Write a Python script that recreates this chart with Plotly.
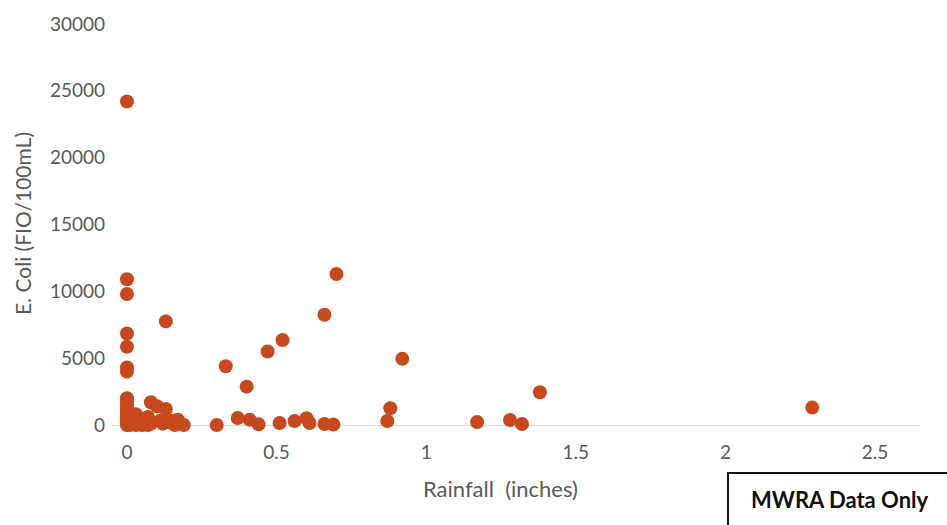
import plotly.graph_objects as go

# Rainfall (inches) and E. coli counts (FIO/100mL) per sample
rainfall = [
    0, 0, 0, 0, 0, 0, 0, 0, 0, 0, 0, 0, 0, 0, 0, 0, 0, 0,
    0.01, 0.01, 0.02, 0.02, 0.03, 0.03, 0.03, 0.04, 0.04, 0.05, 0.05, 0.06,
    0.07, 0.07, 0.08, 0.08, 0.10, 0.11, 0.12, 0.13, 0.13, 0.14, 0.15, 0.16,
    0.17, 0.18, 0.19, 0.13,
    0.30, 0.33, 0.37, 0.40, 0.41, 0.44, 0.47, 0.52, 0.51, 0.56, 0.60, 0.61,
    0.66, 0.66, 0.69, 0.70,
    0.87, 0.88, 0.92, 1.17, 1.28, 1.32, 1.38, 2.29,
]
ecoli = [
    24200, 10900, 9800, 6850, 5850, 4300, 4000, 2000, 1700, 1400, 1100, 900,
    700, 500, 300, 200, 100, 0,
    0, 300, 100, 500, 0, 200, 800, 100, 400, 0, 300, 200,
    0, 600, 1700, 100, 1400, 300, 100, 500, 1200, 200, 300, 0,
    400, 100, 0, 7750,
    0, 4400, 520, 2870, 400, 50, 5500, 6350, 150, 300, 500, 150,
    8250, 70, 30, 11300,
    300, 1250, 4950, 220, 370, 70, 2450, 1300,
]

x_ticks = [0, 0.5, 1, 1.5, 2, 2.5]
x_tick_text = ["0", "0.5", "1", "1.5", "2", "2.5"]
y_ticks = [0, 5000, 10000, 15000, 20000, 25000, 30000]
y_tick_text = ["0", "5000", "10000", "15000", "20000", "25000", "30000"]

font_family = "Lato, 'Open Sans', sans-serif"
tick_color = "#595959"

TOP, BOTTOM, LEFT, RIGHT = 16, 100, 112, 27
plot_h = 525 - TOP - BOTTOM
plot_w = 947 - LEFT - RIGHT
axis_y = 525 - BOTTOM

fig = go.Figure(
    go.Scatter(
        x=rainfall,
        y=ecoli,
        mode="markers",
        marker=dict(size=14, color="#C8481E", line=dict(width=0)),
        cliponaxis=False,
    )
)

fig.update_layout(
    width=947,
    height=525,
    margin=dict(l=LEFT, r=RIGHT, t=TOP, b=BOTTOM),
    paper_bgcolor="white",
    plot_bgcolor="white",
    showlegend=False,
    font=dict(family=font_family, color=tick_color, size=19),
    xaxis=dict(
        range=[-0.05, 2.65],
        tickvals=x_ticks,
        ticktext=x_tick_text,
        showgrid=False,
        zeroline=False,
        showline=False,
        ticks="",
        ticklabelstandoff=14,
        tickfont=dict(size=19, color=tick_color),
    ),
    yaxis=dict(
        range=[0, 30000],
        tickvals=y_ticks,
        ticktext=y_tick_text,
        showgrid=False,
        zeroline=True,
        zerolinecolor="#D9D9D9",
        zerolinewidth=1,
        showline=False,
        ticks="",
        ticklabelstandoff=6,
        tickfont=dict(size=19, color=tick_color),
    ),
    annotations=[
        dict(
            text="Rainfall\u00a0 (inches)",
            xref="paper", yref="paper",
            x=(500 - LEFT) / plot_w, y=-(490 - axis_y) / plot_h,
            xanchor="center", yanchor="middle",
            showarrow=False,
            font=dict(size=22, color=tick_color),
        ),
        dict(
            text="E. Coli (FIO/100mL)",
            xref="paper", yref="paper",
            x=-(LEFT - 22) / plot_w, y=(axis_y - 220) / plot_h,
            xanchor="center", yanchor="middle",
            textangle=-90,
            showarrow=False,
            font=dict(size=21, color=tick_color),
        ),
        dict(
            text="<b>MWRA Data Only</b>",
            xref="paper", yref="paper",
            x=(840 - LEFT) / plot_w, y=-(501 - axis_y) / plot_h,
            xanchor="center", yanchor="middle",
            showarrow=False,
            font=dict(size=22, color="#111111"),
        ),
    ],
    shapes=[
        dict(
            type="rect",
            xref="paper", yref="paper",
            x0=(728 - LEFT) / plot_w, x1=(952 - LEFT) / plot_w,
            y0=-(530 - axis_y) / plot_h, y1=-(474 - axis_y) / plot_h,
            line=dict(color="#111111", width=2),
            fillcolor="rgba(0,0,0,0)",
        )
    ],
)

fig.write_html("out.html")
